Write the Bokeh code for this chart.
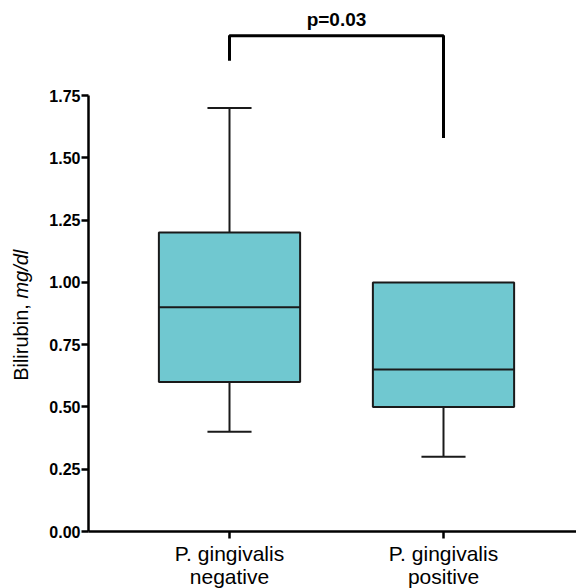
from bokeh.plotting import figure
from bokeh.models import Range1d, FixedTicker, PrintfTickFormatter, Label
from bokeh.embed import file_html
from bokeh.resources import INLINE

# ---- data ----
groups = ["P. gingivalis\nnegative", "P. gingivalis\npositive"]
positions = [0.5, 1.5]
lower = [0.40, 0.30]
q1 = [0.60, 0.50]
median = [0.90, 0.65]
q3 = [1.20, 1.00]
upper = [1.70, 1.00]
y_ticks = [0.0, 0.25, 0.5, 0.75, 1.0, 1.25, 1.5, 1.75]
p_text = "p=0.03"
bracket_top = 1.99
bracket_left_bottom = 1.89
bracket_right_bottom = 1.58
y_title = "Bilirubin, "
y_title_unit = "mg/dl"

box_w = 0.66
cap_w = 0.206
fill = "#70C8D0"
dark = "#1a1a1a"
x_axis_pos = -0.159   # where the y axis sits (data x)

p = figure(width=576, height=588, output_backend="svg", toolbar_location=None,
           x_range=Range1d(-0.5701, 2.1215), y_range=Range1d(-0.2288, 2.1317),
           min_border_left=0, min_border_right=0, min_border_top=0, min_border_bottom=0)
p.outline_line_color = None
p.grid.visible = False

# boxes
p.vbar(x=positions, width=box_w, bottom=q1, top=q3, fill_color=fill,
       line_color=dark, line_width=2)
# medians
p.segment(x0=[x - box_w / 2 for x in positions], x1=[x + box_w / 2 for x in positions],
          y0=median, y1=median, line_color=dark, line_width=2)
# whiskers
p.segment(x0=positions, x1=positions, y0=q1, y1=lower, line_color=dark, line_width=2)
p.segment(x0=positions, x1=positions, y0=q3, y1=upper, line_color=dark, line_width=2)
p.segment(x0=[x - cap_w / 2 for x in positions], x1=[x + cap_w / 2 for x in positions],
          y0=lower, y1=lower, line_color=dark, line_width=2)
up_x = [x for x, u, t in zip(positions, upper, q3) if u > t]
up_y = [u for u, t in zip(upper, q3) if u > t]
p.segment(x0=[x - cap_w / 2 for x in up_x], x1=[x + cap_w / 2 for x in up_x],
          y0=up_y, y1=up_y, line_color=dark, line_width=2)

# significance bracket
p.line(x=[positions[0], positions[0], positions[1], positions[1]],
       y=[bracket_left_bottom, bracket_top, bracket_top, bracket_right_bottom],
       line_color="black", line_width=3)
p.add_layout(Label(x=(positions[0] + positions[1]) / 2, y=2.056, text=p_text,
                   text_align="center", text_baseline="alphabetic", text_font="Liberation Sans",
                   text_font_style="bold", text_font_size="19px", text_color="black"))

# axes (fixed inside the frame so the frame spans the whole canvas)
p.yaxis.fixed_location = x_axis_pos
p.yaxis.ticker = FixedTicker(ticks=y_ticks)
p.yaxis.formatter = PrintfTickFormatter(format="%.2f")
p.yaxis.bounds = (0, 1.75)
p.yaxis.axis_line_width = 2.5
p.yaxis.major_tick_line_width = 2.5
p.yaxis.major_tick_out = 7
p.yaxis.major_tick_in = 0
p.yaxis.minor_tick_line_color = None
p.yaxis.major_label_text_font = "Liberation Sans"
p.yaxis.major_label_text_font_style = "bold"
p.yaxis.major_label_text_font_size = "16px"
p.yaxis.major_label_text_color = "black"
p.yaxis.major_label_standoff = 1

p.xaxis.fixed_location = 0
p.xaxis.ticker = FixedTicker(ticks=positions)
p.xaxis.major_label_overrides = {pos: g for pos, g in zip(positions, groups)}
p.xaxis.bounds = (x_axis_pos, 2.1215)
p.xaxis.axis_line_width = 2.5
p.xaxis.major_tick_line_width = 2.5
p.xaxis.major_tick_out = 7
p.xaxis.major_tick_in = 0
p.xaxis.minor_tick_line_color = None
p.xaxis.major_label_text_font = "Liberation Sans"
p.xaxis.major_label_text_font_size = "21px"
p.xaxis.major_label_text_line_height = 1.0
p.xaxis.major_label_text_color = "black"
p.xaxis.major_label_standoff = 3

# y-axis title: regular + italic parts, joined at one point
join_y = 0.935
p.add_layout(Label(x=-0.472, y=join_y, text=y_title, angle=90, angle_units="deg",
                   text_align="right", text_baseline="alphabetic", text_font="Liberation Sans",
                   text_font_size="20px", text_color="black"))
p.add_layout(Label(x=-0.472, y=join_y, text=y_title_unit, angle=90, angle_units="deg",
                   text_align="left", text_baseline="alphabetic", text_font="Liberation Sans",
                   text_font_style="italic", text_font_size="20px", text_color="black"))

open("out.html", "w").write(file_html(p, INLINE))
